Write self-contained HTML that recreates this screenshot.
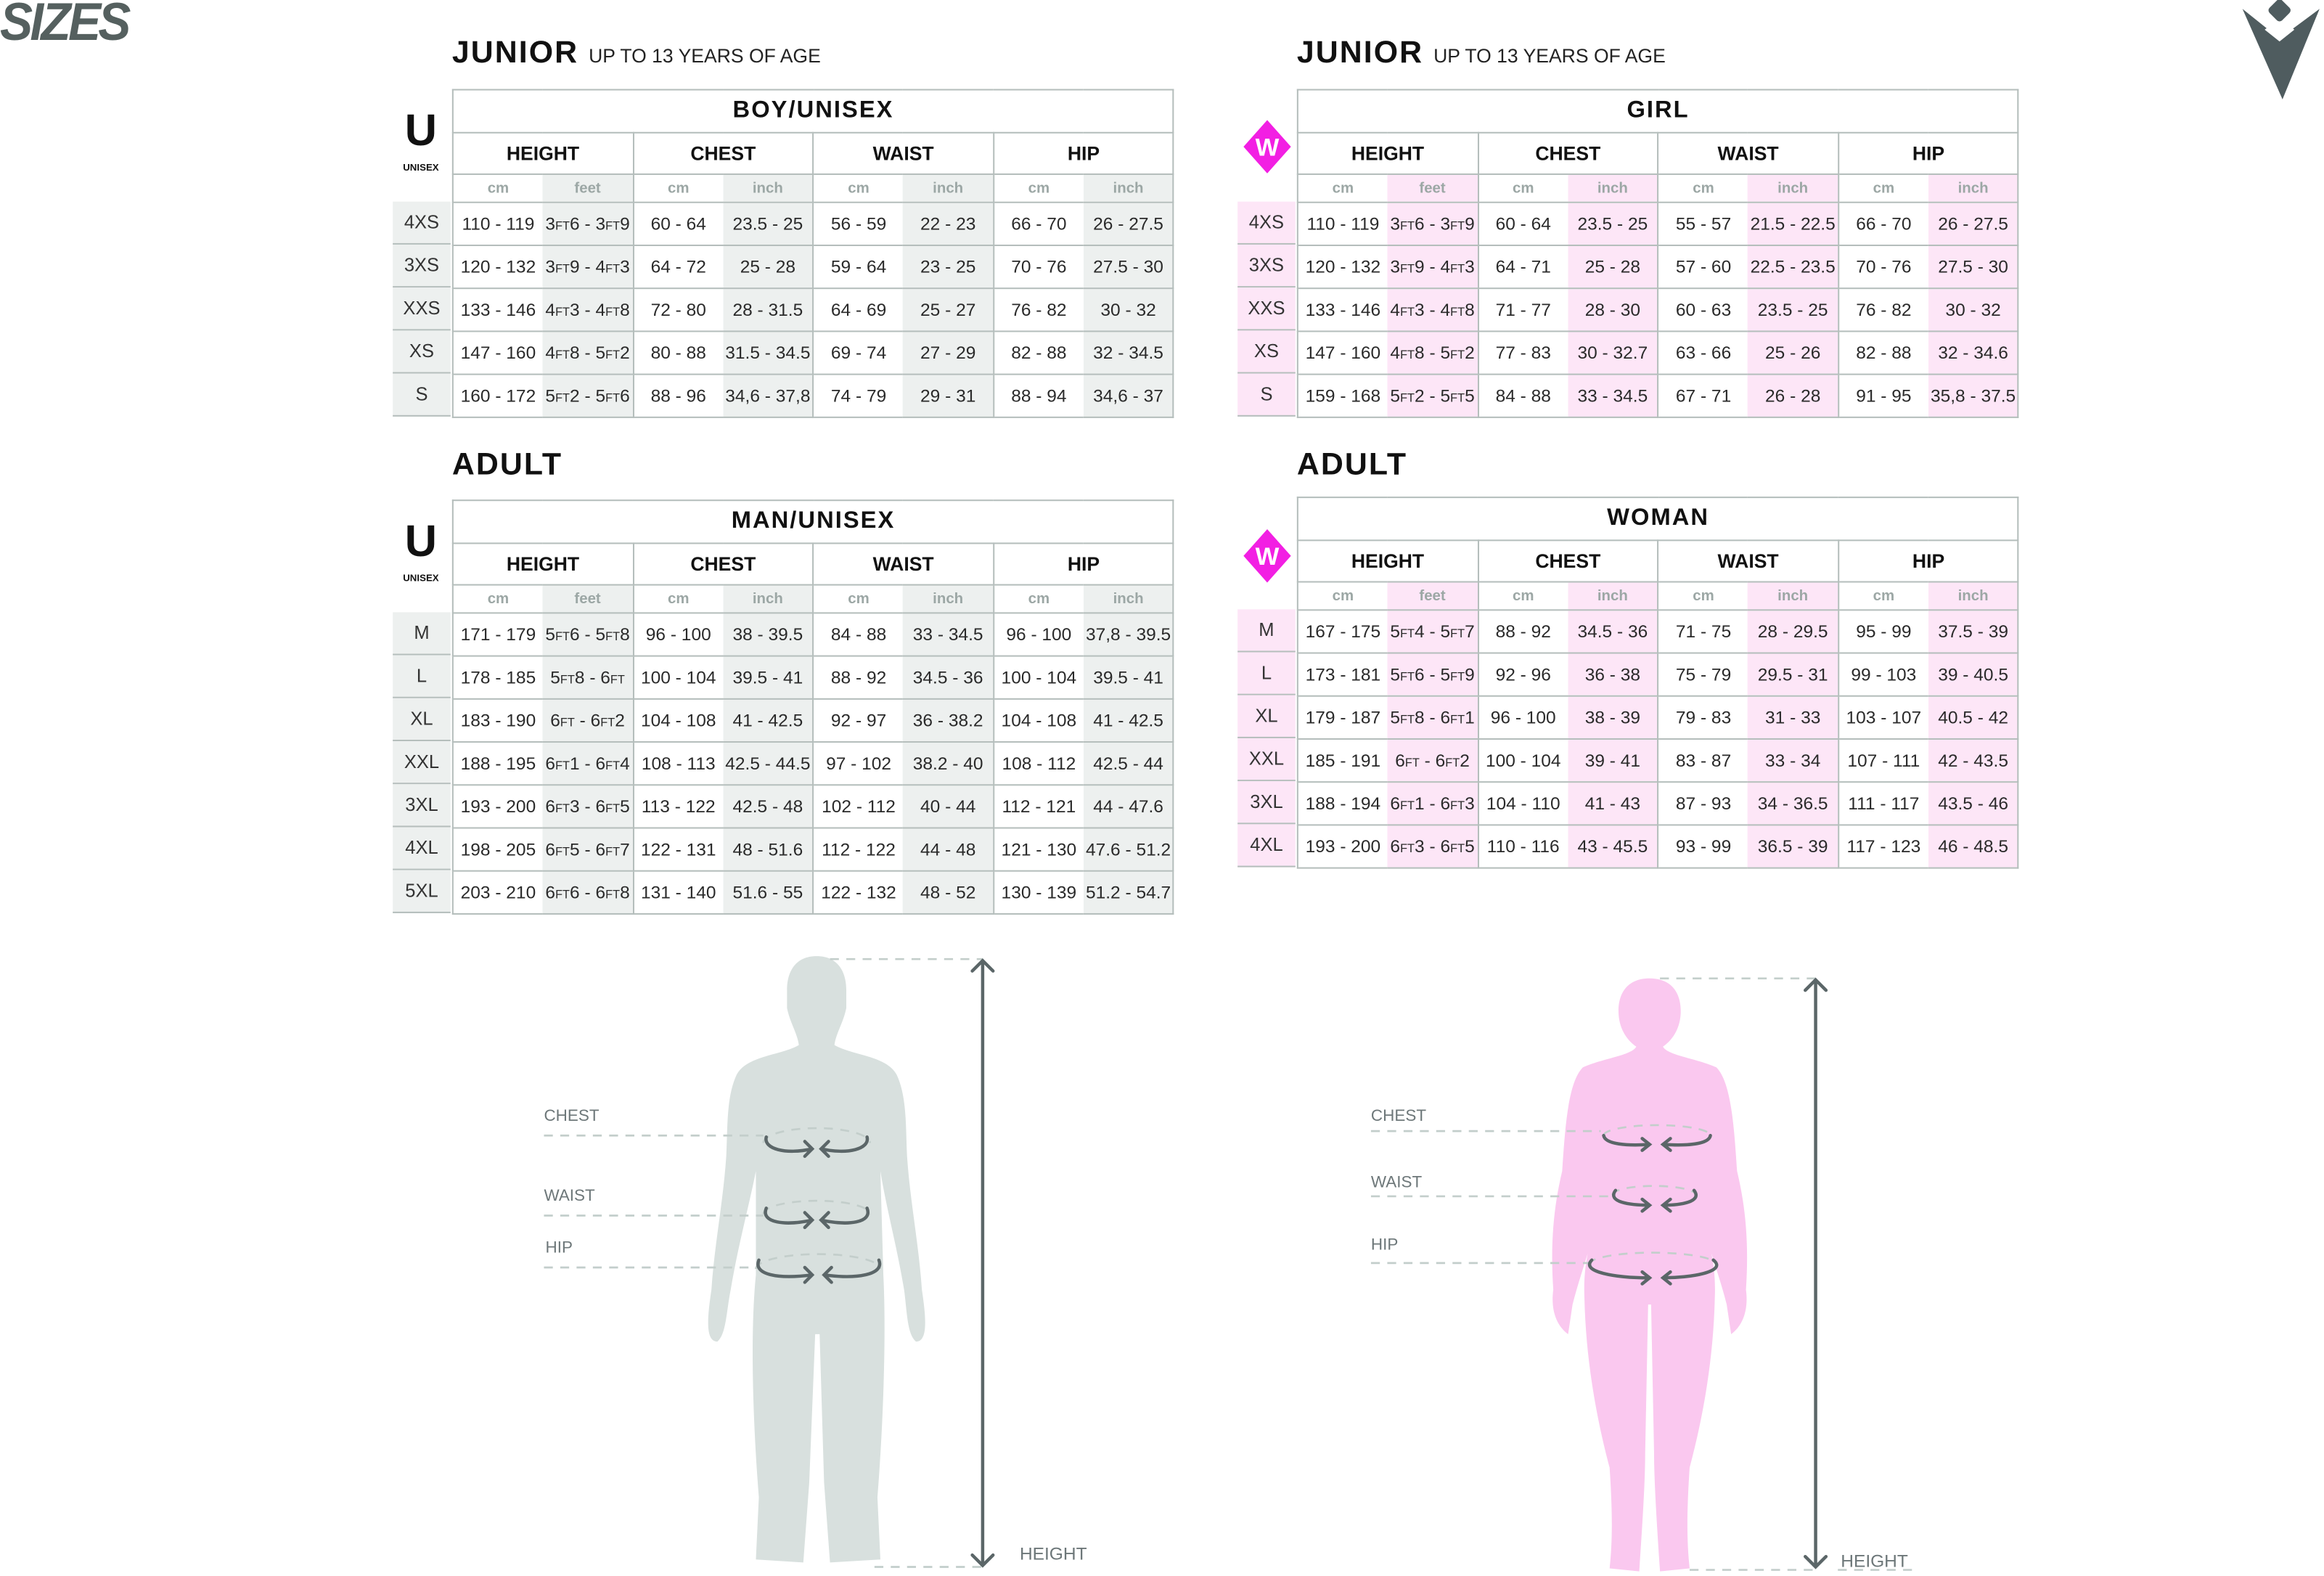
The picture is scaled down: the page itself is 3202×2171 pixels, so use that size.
<!DOCTYPE html>
<html><head><meta charset="utf-8">
<style>
html,body{margin:0;padding:0;background:#fff;width:3202px;height:2171px;overflow:hidden}
#p{position:absolute;left:0;top:0;width:1568px;height:1063px;transform:scale(2.04209);transform-origin:0 0;font-family:"Liberation Sans Narrow","Liberation Sans",sans-serif;color:#222}
.abs{position:absolute}
.t{position:absolute;border-collapse:collapse;table-layout:fixed;width:487px}
.t td{padding:0;text-align:center;white-space:nowrap;overflow:hidden;border:0;font-size:12px;color:#2a2a2a}
.t col{width:60.8px}
.t tr.r1{height:29px}.t tr.r2{height:28px}.t tr.r3{height:19px}.t tr.d{height:29px}
.t tr.r1 td{font-family:"Liberation Sans",sans-serif;font-weight:bold;font-size:16px;letter-spacing:1px;color:#111;border:1px solid #b5bebc}
.t tr.r2 td{font-family:"Liberation Sans",sans-serif;font-weight:bold;font-size:13px;color:#111;border:1px solid #b5bebc;border-bottom:1px solid #b5bebc}
.t tr.r3 td{font-family:"Liberation Sans",sans-serif;font-weight:bold;font-size:10px;color:#9ca7a5;border-bottom:1px solid #b5bebc}
.t tr.d td{border-bottom:1px solid #b5bebc}
.t tr.r3 td:nth-child(2n),.t tr.d td:nth-child(2n){border-right:1px solid #b5bebc}
.t tr.r3 td:first-child,.t tr.d td:first-child{border-left:1px solid #b5bebc}
.g tr.r3 td:nth-child(2n),.g tr.d td:nth-child(2n){background:#edf0ef}
.k tr.r3 td:nth-child(2n),.k tr.d td:nth-child(2n){background:#fde6f7}
.t i{font-style:normal;font-size:8px}
.lab{position:absolute;width:39px}
.lab div{height:28px;border-bottom:1px solid #b5bebc;text-align:center;line-height:28px;font-size:12.5px;color:#333}
.lg div{background:#edf0ef}.lk div{background:#fde6f7}
.h1{position:absolute;font-family:"Liberation Sans",sans-serif;font-weight:bold;font-size:21px;color:#111;letter-spacing:1px}
.h1 span{font-weight:normal;font-size:13px;letter-spacing:0;color:#222}
.bl{font-family:"Liberation Sans",sans-serif;font-size:11px;color:#6d7779;position:absolute}
</style></head><body><div id="p">

<div class="abs" style="left:0;top:-6px;font-family:'Liberation Sans',sans-serif;font-weight:bold;font-style:italic;font-size:36px;color:#55605f;letter-spacing:-2px;transform:scaleX(0.92);transform-origin:0 0">SIZES</div>
<svg class="abs" style="left:1510px;top:0" width="58" height="70" viewBox="0 0 58 70"><polygon points="3,6 28,26 55,6 30,67" fill="#4f5c5f"/><polygon points="18,20 28,28 38,20 28,12" fill="#fff"/><rect x="22" y="1" width="12" height="12" rx="2.5" transform="rotate(45 28 7)" fill="#4f5c5f"/></svg>

<div class="h1" style="left:305px;top:24px">JUNIOR <span>UP TO 13 YEARS OF AGE</span></div>
<div class="h1" style="left:875px;top:24px">JUNIOR <span>UP TO 13 YEARS OF AGE</span></div>
<div class="h1" style="left:305px;top:302px">ADULT</div>
<div class="h1" style="left:875px;top:302px">ADULT</div>

<div class="abs" style="left:268px;top:74px;width:32px;text-align:center;font-family:'Liberation Sans',sans-serif;font-weight:bold;font-size:30px;line-height:30px;color:#111">U</div>
<div class="abs" style="left:264px;top:110px;width:40px;text-align:center;font-family:'Liberation Sans',sans-serif;font-weight:bold;font-size:6.5px;color:#111">UNISEX</div>
<div class="abs" style="left:268px;top:351px;width:32px;text-align:center;font-family:'Liberation Sans',sans-serif;font-weight:bold;font-size:30px;line-height:30px;color:#111">U</div>
<div class="abs" style="left:264px;top:387px;width:40px;text-align:center;font-family:'Liberation Sans',sans-serif;font-weight:bold;font-size:6.5px;color:#111">UNISEX</div>
<svg class="abs" style="left:838px;top:81px" width="34" height="36"><polygon points="17,0 33,18 17,36 1,18" fill="#f21fe3"/><text x="17" y="24" text-anchor="middle" font-family="Liberation Sans Narrow,Liberation Sans,sans-serif" font-size="17" font-weight="bold" fill="#fff">W</text></svg>
<svg class="abs" style="left:838px;top:357px" width="34" height="36"><polygon points="17,0 33,18 17,36 1,18" fill="#f21fe3"/><text x="17" y="24" text-anchor="middle" font-family="Liberation Sans Narrow,Liberation Sans,sans-serif" font-size="17" font-weight="bold" fill="#fff">W</text></svg>

<div class="lab lg" style="left:265px;top:136px"><div>4XS</div><div>3XS</div><div>XXS</div><div>XS</div><div>S</div></div>
<div class="lab lk" style="left:835px;top:136px"><div>4XS</div><div>3XS</div><div>XXS</div><div>XS</div><div>S</div></div>
<div class="lab lg" style="left:265px;top:413px"><div>M</div><div>L</div><div>XL</div><div>XXL</div><div>3XL</div><div>4XL</div><div>5XL</div></div>
<div class="lab lk" style="left:835px;top:411px"><div>M</div><div>L</div><div>XL</div><div>XXL</div><div>3XL</div><div>4XL</div></div>

<table class="t g" style="left:305px;top:60px"><colgroup><col><col><col><col><col><col><col><col></colgroup>
<tr class="r1"><td colspan="8">BOY/UNISEX</td></tr>
<tr class="r2"><td colspan="2">HEIGHT</td><td colspan="2">CHEST</td><td colspan="2">WAIST</td><td colspan="2">HIP</td></tr>
<tr class="r3"><td>cm</td><td>feet</td><td>cm</td><td>inch</td><td>cm</td><td>inch</td><td>cm</td><td>inch</td></tr>
<tr class="d"><td>110 - 119</td><td>3<i>FT</i>6 - 3<i>FT</i>9</td><td>60 - 64</td><td>23.5 - 25</td><td>56 - 59</td><td>22 - 23</td><td>66 - 70</td><td>26 - 27.5</td></tr>
<tr class="d"><td>120 - 132</td><td>3<i>FT</i>9 - 4<i>FT</i>3</td><td>64 - 72</td><td>25 - 28</td><td>59 - 64</td><td>23 - 25</td><td>70 - 76</td><td>27.5 - 30</td></tr>
<tr class="d"><td>133 - 146</td><td>4<i>FT</i>3 - 4<i>FT</i>8</td><td>72 - 80</td><td>28 - 31.5</td><td>64 - 69</td><td>25 - 27</td><td>76 - 82</td><td>30 - 32</td></tr>
<tr class="d"><td>147 - 160</td><td>4<i>FT</i>8 - 5<i>FT</i>2</td><td>80 - 88</td><td>31.5 - 34.5</td><td>69 - 74</td><td>27 - 29</td><td>82 - 88</td><td>32 - 34.5</td></tr>
<tr class="d"><td>160 - 172</td><td>5<i>FT</i>2 - 5<i>FT</i>6</td><td>88 - 96</td><td>34,6 - 37,8</td><td>74 - 79</td><td>29 - 31</td><td>88 - 94</td><td>34,6 - 37</td></tr>
</table>

<table class="t k" style="left:875px;top:60px"><colgroup><col><col><col><col><col><col><col><col></colgroup>
<tr class="r1"><td colspan="8">GIRL</td></tr>
<tr class="r2"><td colspan="2">HEIGHT</td><td colspan="2">CHEST</td><td colspan="2">WAIST</td><td colspan="2">HIP</td></tr>
<tr class="r3"><td>cm</td><td>feet</td><td>cm</td><td>inch</td><td>cm</td><td>inch</td><td>cm</td><td>inch</td></tr>
<tr class="d"><td>110 - 119</td><td>3<i>FT</i>6 - 3<i>FT</i>9</td><td>60 - 64</td><td>23.5 - 25</td><td>55 - 57</td><td>21.5 - 22.5</td><td>66 - 70</td><td>26 - 27.5</td></tr>
<tr class="d"><td>120 - 132</td><td>3<i>FT</i>9 - 4<i>FT</i>3</td><td>64 - 71</td><td>25 - 28</td><td>57 - 60</td><td>22.5 - 23.5</td><td>70 - 76</td><td>27.5 - 30</td></tr>
<tr class="d"><td>133 - 146</td><td>4<i>FT</i>3 - 4<i>FT</i>8</td><td>71 - 77</td><td>28 - 30</td><td>60 - 63</td><td>23.5 - 25</td><td>76 - 82</td><td>30 - 32</td></tr>
<tr class="d"><td>147 - 160</td><td>4<i>FT</i>8 - 5<i>FT</i>2</td><td>77 - 83</td><td>30 - 32.7</td><td>63 - 66</td><td>25 - 26</td><td>82 - 88</td><td>32 - 34.6</td></tr>
<tr class="d"><td>159 - 168</td><td>5<i>FT</i>2 - 5<i>FT</i>5</td><td>84 - 88</td><td>33 - 34.5</td><td>67 - 71</td><td>26 - 28</td><td>91 - 95</td><td>35,8 - 37.5</td></tr>
</table>

<table class="t g" style="left:305px;top:337px"><colgroup><col><col><col><col><col><col><col><col></colgroup>
<tr class="r1"><td colspan="8">MAN/UNISEX</td></tr>
<tr class="r2"><td colspan="2">HEIGHT</td><td colspan="2">CHEST</td><td colspan="2">WAIST</td><td colspan="2">HIP</td></tr>
<tr class="r3"><td>cm</td><td>feet</td><td>cm</td><td>inch</td><td>cm</td><td>inch</td><td>cm</td><td>inch</td></tr>
<tr class="d"><td>171 - 179</td><td>5<i>FT</i>6 - 5<i>FT</i>8</td><td>96 - 100</td><td>38 - 39.5</td><td>84 - 88</td><td>33 - 34.5</td><td>96 - 100</td><td>37,8 - 39.5</td></tr>
<tr class="d"><td>178 - 185</td><td>5<i>FT</i>8 - 6<i>FT</i></td><td>100 - 104</td><td>39.5 - 41</td><td>88 - 92</td><td>34.5 - 36</td><td>100 - 104</td><td>39.5 - 41</td></tr>
<tr class="d"><td>183 - 190</td><td>6<i>FT</i> - 6<i>FT</i>2</td><td>104 - 108</td><td>41 - 42.5</td><td>92 - 97</td><td>36 - 38.2</td><td>104 - 108</td><td>41 - 42.5</td></tr>
<tr class="d"><td>188 - 195</td><td>6<i>FT</i>1 - 6<i>FT</i>4</td><td>108 - 113</td><td>42.5 - 44.5</td><td>97 - 102</td><td>38.2 - 40</td><td>108 - 112</td><td>42.5 - 44</td></tr>
<tr class="d"><td>193 - 200</td><td>6<i>FT</i>3 - 6<i>FT</i>5</td><td>113 - 122</td><td>42.5 - 48</td><td>102 - 112</td><td>40 - 44</td><td>112 - 121</td><td>44 - 47.6</td></tr>
<tr class="d"><td>198 - 205</td><td>6<i>FT</i>5 - 6<i>FT</i>7</td><td>122 - 131</td><td>48 - 51.6</td><td>112 - 122</td><td>44 - 48</td><td>121 - 130</td><td>47.6 - 51.2</td></tr>
<tr class="d"><td>203 - 210</td><td>6<i>FT</i>6 - 6<i>FT</i>8</td><td>131 - 140</td><td>51.6 - 55</td><td>122 - 132</td><td>48 - 52</td><td>130 - 139</td><td>51.2 - 54.7</td></tr>
</table>

<table class="t k" style="left:875px;top:335px"><colgroup><col><col><col><col><col><col><col><col></colgroup>
<tr class="r1"><td colspan="8">WOMAN</td></tr>
<tr class="r2"><td colspan="2">HEIGHT</td><td colspan="2">CHEST</td><td colspan="2">WAIST</td><td colspan="2">HIP</td></tr>
<tr class="r3"><td>cm</td><td>feet</td><td>cm</td><td>inch</td><td>cm</td><td>inch</td><td>cm</td><td>inch</td></tr>
<tr class="d"><td>167 - 175</td><td>5<i>FT</i>4 - 5<i>FT</i>7</td><td>88 - 92</td><td>34.5 - 36</td><td>71 - 75</td><td>28 - 29.5</td><td>95 - 99</td><td>37.5 - 39</td></tr>
<tr class="d"><td>173 - 181</td><td>5<i>FT</i>6 - 5<i>FT</i>9</td><td>92 - 96</td><td>36 - 38</td><td>75 - 79</td><td>29.5 - 31</td><td>99 - 103</td><td>39 - 40.5</td></tr>
<tr class="d"><td>179 - 187</td><td>5<i>FT</i>8 - 6<i>FT</i>1</td><td>96 - 100</td><td>38 - 39</td><td>79 - 83</td><td>31 - 33</td><td>103 - 107</td><td>40.5 - 42</td></tr>
<tr class="d"><td>185 - 191</td><td>6<i>FT</i> - 6<i>FT</i>2</td><td>100 - 104</td><td>39 - 41</td><td>83 - 87</td><td>33 - 34</td><td>107 - 111</td><td>42 - 43.5</td></tr>
<tr class="d"><td>188 - 194</td><td>6<i>FT</i>1 - 6<i>FT</i>3</td><td>104 - 110</td><td>41 - 43</td><td>87 - 93</td><td>34 - 36.5</td><td>111 - 117</td><td>43.5 - 46</td></tr>
<tr class="d"><td>193 - 200</td><td>6<i>FT</i>3 - 6<i>FT</i>5</td><td>110 - 116</td><td>43 - 45.5</td><td>93 - 99</td><td>36.5 - 39</td><td>117 - 123</td><td>46 - 48.5</td></tr>
</table>

<svg class="abs" style="left:0;top:0" width="1568" height="1063" viewBox="0 0 1568 1063">
<path fill="#d8e0de" d="M551,645 C565,645 571,655 571,668 L571,680 C569,690 564,697 563,705 C575,712 598,712 605,725 C612,740 611,760 612,780 C614,810 620,840 622,870 C625,890 626,905 618,905 C612,900 612,885 610,870 C605,840 598,815 594,790 L596,860 C598,900 596,960 592,1010 L594,1052 L560,1054 L556,1000 L553,900 L550,900 L546,1000 L542,1054 L510,1052 L512,1010 C508,960 506,900 510,860 L510,790 C505,815 498,840 493,870 C490,885 490,900 484,905 C476,905 477,890 480,870 C482,840 488,810 490,780 C491,760 490,740 497,725 C504,712 527,712 539,705 C538,697 533,690 531,680 L531,668 C531,655 537,645 551,645 Z"/>
<path fill="#fac8ef" d="M1113,660 C1128,660 1134,670 1134,682 C1134,694 1128,702 1122,706 C1125,712 1145,714 1158,720 C1168,730 1170,760 1172,790 C1178,815 1180,840 1178,870 C1180,885 1175,895 1168,900 L1165,880 C1160,860 1152,840 1148,820 C1152,835 1158,850 1157,875 C1156,920 1148,960 1140,990 C1138,1020 1138,1040 1140,1058 L1120,1060 C1118,1030 1116,1000 1116,980 L1114,880 L1112,880 L1110,980 C1110,1000 1108,1030 1106,1060 L1086,1058 C1088,1040 1088,1020 1086,990 C1078,960 1070,920 1069,875 C1068,850 1074,835 1078,820 C1074,840 1066,860 1061,880 L1058,900 C1051,895 1046,885 1048,870 C1046,840 1048,815 1054,790 C1056,760 1058,730 1068,720 C1081,714 1101,712 1104,706 C1098,702 1092,694 1092,682 C1092,670 1098,660 1113,660 Z"/>
<g stroke="#c3cecb" stroke-width="1.3" stroke-dasharray="6,5" fill="none">
<path d="M367,766 H515 M367,820 H515 M367,855 H510 M560,647 H663 M590,1057 H663"/>
<path d="M925,763 H1080 M925,807 H1085 M925,852 H1072 M1120,660 H1225 M1140,1059 H1225 M1240,1059 H1290"/>
<path d="M515,771 A36,10 0 0 1 587,771 M515,819 A36,9 0 0 1 587,819 M510,856 A42,10 0 0 1 594,856"/>
<path d="M1082,766 A36,7 0 0 1 1154,766 M1088,806 A28,6 0 0 1 1144,806 M1072,853 A43,8 0 0 1 1158,853"/>
</g>
<g stroke="#5b6668" stroke-width="2.2" fill="none" stroke-linecap="round">
<path d="M663,648 V1056 M656,655 L663,648 L670,655 M656,1049 L663,1056 L670,1049"/>
<path d="M1225,661 V1057 M1218,668 L1225,661 L1232,668 M1218,1050 L1225,1057 L1232,1050"/>
</g>
<g stroke="#5b6668" stroke-width="2.2" fill="none" stroke-linecap="round">
<path d="M517,767 C515,775 530,779 548,775 M543,770 L548,775 L543,780 M585,767 C587,775 572,779 554,775 M559,770 L554,775 L559,780"/>
<path d="M517,815 C513,825 530,827 548,823 M543,818 L548,823 L543,828 M585,815 C589,825 572,827 554,823 M559,818 L554,823 L559,828"/>
<path d="M512,850 C508,860 525,863 548,860 M543,855 L548,860 L543,865 M593,850 C597,860 578,863 556,860 M561,855 L556,860 L561,865"/>
<path d="M1082,766 C1083,772 1098,773 1113,772 M1108,768 L1113,772 L1108,776 M1154,766 C1153,772 1138,773 1122,772 M1127,768 L1122,772 L1127,776"/>
<path d="M1090,803 C1084,811 1100,813 1113,813 M1108,809 L1113,813 L1108,817 M1143,803 C1149,811 1133,813 1122,813 M1127,809 L1122,813 L1127,817"/>
<path d="M1074,850 C1066,858 1090,862 1113,862 M1108,858 L1113,862 L1108,866 M1156,850 C1166,858 1140,862 1122,862 M1127,858 L1122,862 L1127,866"/>
</g>
</svg>
<div class="bl" style="left:367px;top:747px">CHEST</div>
<div class="bl" style="left:367px;top:801px">WAIST</div>
<div class="bl" style="left:368px;top:836px">HIP</div>
<div class="bl" style="left:688px;top:1041px;font-size:12px">HEIGHT</div>
<div class="bl" style="left:925px;top:747px">CHEST</div>
<div class="bl" style="left:925px;top:792px">WAIST</div>
<div class="bl" style="left:925px;top:834px">HIP</div>
<div class="bl" style="left:1242px;top:1046px;font-size:12px">HEIGHT</div>
</div></body></html>
